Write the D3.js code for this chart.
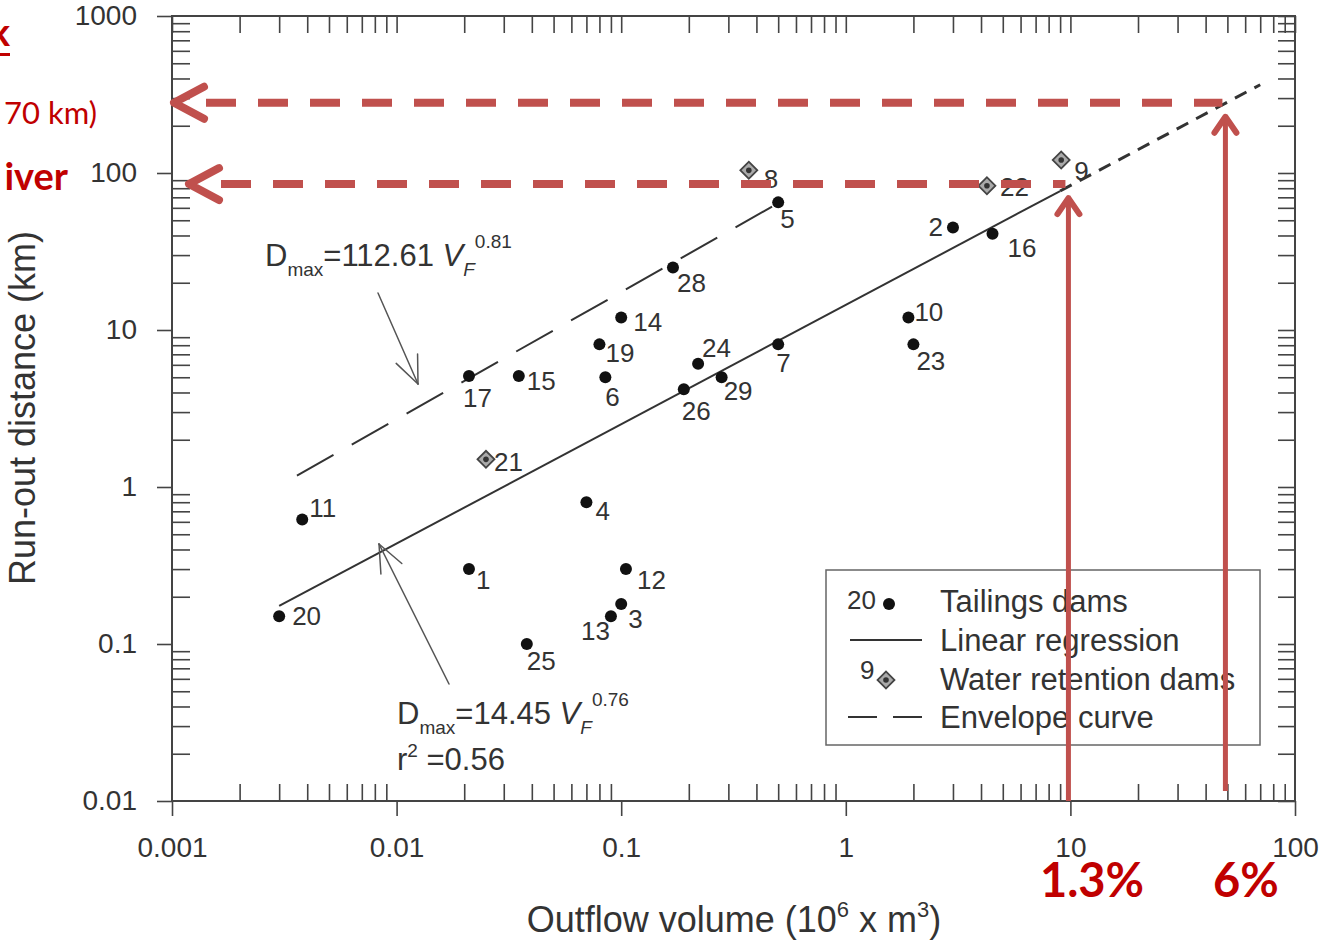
<!DOCTYPE html>
<html>
<head>
<meta charset="utf-8">
<script src="https://cdn.jsdelivr.net/npm/d3@7"></script>
<style>
  html, body { margin: 0; padding: 0; background: #fff; }
  svg { display: block; }
</style>
</head>
<body>
<svg id="chart" width="1325" height="944"></svg>
<script>
// tailings dams: id, outflow volume (10^6 m3), run-out distance (km)
const tailingsIds  = ["20", "11", "17", "15", "1", "25", "4", "12", "3", "13", "14", "19", "6", "24", "26", "29", "7", "28", "5", "2", "16", "10", "23"];
const tailingsVol  = [0.003, 0.0038, 0.021, 0.035, 0.021, 0.038, 0.07, 0.105, 0.1, 0.09, 0.1, 0.08, 0.085, 0.22, 0.19, 0.28, 0.5, 0.17, 0.5, 3.0, 4.5, 1.9, 2.0];
const tailingsDist = [0.15, 0.62, 5.1, 5.1, 0.3, 0.1, 0.8, 0.3, 0.18, 0.15, 12, 8.1, 5.0, 6.1, 4.2, 5.0, 8.1, 25, 65, 45, 41, 12, 8.1];

// water retention dams
const waterIds  = ["8", "22", "9", "21"];
const waterVol  = [0.37, 4.25, 9.1, 0.025];
const waterDist = [104, 83, 121, 1.5];

// fitted curves D = a * V^b
const regA = 14.45, regB = 0.76, regVol = [0.003, 9], regExtVol = [9, 70];
const envA = 112.61, envB = 0.81, envVol = [0.0036, 0.56];

// red overlay: volumes and distances read from the regression
const markVol  = [9.8, 49];
const markDist = [85, 280];
const markPct  = ["1.3%", "6%"];

const xMajor = [0.001, 0.01, 0.1, 1, 10, 100];
const yMajor = [0.01, 0.1, 1, 10, 100, 1000];

// label placement next to each point [dx, dy, anchor]
const labelPos = {
  "20": [13, 9, "start"], "11": [7, -3, "start"], "17": [-6, 31, "start"], "15": [8, 14, "start"],
  "1": [7, 20, "start"], "25": [0, 26, "start"], "4": [9, 18, "start"], "12": [11, 20, "start"],
  "3": [7, 24, "start"], "13": [-1, 24, "end"], "14": [12, 13, "start"], "19": [6, 18, "start"],
  "6": [0, 29, "start"], "24": [4, -7, "start"], "26": [-2, 31, "start"], "29": [2, 23, "start"],
  "7": [-2, 28, "start"], "28": [4, 24, "start"], "5": [2, 26, "start"], "2": [-10, 9, "end"],
  "16": [15, 23, "start"], "10": [6, 3, "start"], "23": [3, 26, "start"],
  "8": [15, 18, "start"], "22": [13, 10, "start"], "9": [13, 20, "start"], "21": [8, 12, "start"]
};

const ink = "#333";
const redLine = "#c0504d";
const redText = "#c00000";
const font = "'Liberation Sans', Arial, sans-serif";
const slideFont = "Lato, 'Open Sans', sans-serif";

const svg = d3.select("#chart");
const pLeft = 172, pRight = 1295, pTop = 16, pBottom = 801;

const x = d3.scaleLog().domain([0.001, 100]).range([pLeft, pRight]);
const y = d3.scaleLog().domain([0.01, 1000]).range([pBottom, pTop]);

const minors = (major) => {
  let out = [];
  major.slice(0, -1).forEach((m) => {
    for (let k = 2; k <= 9; k++) out.push(m * k);
  });
  return out;
};
const xMinor = minors(xMajor);
const yMinor = minors(yMajor);
const fmt = d3.format("~g");

const g = svg.append("g");

// frame
g.append("rect")
  .attr("x", pLeft).attr("y", pTop)
  .attr("width", pRight - pLeft).attr("height", pBottom - pTop)
  .attr("fill", "none").attr("stroke", "#444").attr("stroke-width", 2);

const styleAxis = (sel) => {
  sel.select(".domain").remove();
  sel.selectAll(".tick line").attr("stroke", "#444").attr("stroke-width", 1.6);
  sel.selectAll(".tick text")
    .attr("fill", ink).attr("font-family", font).attr("font-size", 28);
};

// bottom: majors outward, minors inward
g.append("g").attr("transform", `translate(0,${pBottom})`)
  .call(d3.axisBottom(x).tickValues(xMajor).tickSize(15).tickPadding(21).tickFormat(fmt))
  .call(styleAxis);
g.append("g").attr("transform", `translate(0,${pBottom})`)
  .call(d3.axisTop(x).tickValues(xMinor).tickSize(17).tickFormat(""))
  .call(styleAxis);

// left: majors outward, minors inward
g.append("g").attr("transform", `translate(${pLeft},0)`)
  .call(d3.axisLeft(y).tickValues(yMajor).tickSize(15).tickPadding(20).tickFormat(fmt))
  .call(styleAxis);
g.append("g").attr("transform", `translate(${pLeft},0)`)
  .call(d3.axisRight(y).tickValues(yMinor).tickSize(18).tickFormat(""))
  .call(styleAxis);

// top and right: inward ticks only
g.append("g").attr("transform", `translate(0,${pTop})`)
  .call(d3.axisBottom(x).tickValues(xMinor.concat(xMajor)).tickSize(17).tickFormat(""))
  .call(styleAxis);
g.append("g").attr("transform", `translate(${pRight},0)`)
  .call(d3.axisLeft(y).tickValues(yMinor.concat(yMajor)).tickSize(17).tickFormat(""))
  .call(styleAxis);

// axis titles
const xt = g.append("text")
  .attr("x", 734).attr("y", 932)
  .attr("text-anchor", "middle")
  .attr("font-family", font).attr("font-size", 36).attr("fill", ink);
xt.append("tspan").text("Outflow volume (10");
xt.append("tspan").attr("dy", -15).attr("font-size", 22).text("6");
xt.append("tspan").attr("dy", 15).text(" x m");
xt.append("tspan").attr("dy", -15).attr("font-size", 22).text("3");
xt.append("tspan").attr("dy", 15).text(")");

g.append("text")
  .attr("transform", "translate(35,408) rotate(-90)")
  .attr("text-anchor", "middle")
  .attr("font-family", font).attr("font-size", 36).attr("fill", ink)
  .text("Run-out distance (km)");

// regression and envelope lines
const line = d3.line().x((d) => x(d[0])).y((d) => y(d[1]));
const power = (a, b, vols) => vols.map((v) => [v, a * Math.pow(v, b)]);

g.append("path")
  .attr("d", line(power(regA, regB, regVol)))
  .attr("fill", "none").attr("stroke", ink).attr("stroke-width", 2);

g.append("path")
  .attr("d", line(power(envA, envB, envVol)))
  .attr("fill", "none").attr("stroke", ink).attr("stroke-width", 2)
  .attr("stroke-dasharray", "42,21");

// annotation arrows (thin, open heads)
const openArrow = (x1, y1, x2, y2, len, color, width) => {
  let ang = Math.atan2(y2 - y1, x2 - x1);
  let a = g.append("g").attr("stroke", color).attr("stroke-width", width)
    .attr("fill", "none").attr("stroke-linecap", "round");
  a.append("line").attr("x1", x1).attr("y1", y1).attr("x2", x2).attr("y2", y2);
  [-0.4, 0.4].forEach((da) => {
    a.append("line")
      .attr("x1", x2).attr("y1", y2)
      .attr("x2", x2 - len * Math.cos(ang + da))
      .attr("y2", y2 - len * Math.sin(ang + da));
  });
};
openArrow(378, 293, 418, 384, 30, "#555", 1.5);
openArrow(449, 684, 379, 544, 30, "#555", 1.5);

// equation labels
const equation = (px, py, a, b) => {
  let t = g.append("text")
    .attr("x", px).attr("y", py)
    .attr("font-family", font).attr("font-size", 31).attr("fill", ink);
  t.append("tspan").text("D");
  t.append("tspan").attr("dy", 10).attr("font-size", 19).text("max");
  t.append("tspan").attr("dy", -10).text("=" + a + " ");
  t.append("tspan").attr("font-style", "italic").text("V");
  t.append("tspan").attr("dy", 10).attr("font-size", 19).attr("font-style", "italic").text("F");
  t.append("tspan").attr("dy", -28).attr("font-size", 19).text(b);
};
equation(265, 266, "112.61", "0.81");
equation(397, 724, "14.45", "0.76");

const r2 = g.append("text")
  .attr("x", 397).attr("y", 770)
  .attr("font-family", font).attr("font-size", 31).attr("fill", ink);
r2.append("tspan").text("r");
r2.append("tspan").attr("dy", -13).attr("font-size", 19).text("2");
r2.append("tspan").attr("dy", 13).text(" =0.56");

// points
const tailings = tailingsIds.map((id, i) => ({ id: id, v: tailingsVol[i], d: tailingsDist[i] }));
const water = waterIds.map((id, i) => ({ id: id, v: waterVol[i], d: waterDist[i] }));

g.selectAll("circle.tail")
  .data(tailings)
  .enter().append("circle")
  .attr("class", "tail")
  .attr("cx", (d) => x(d.v)).attr("cy", (d) => y(d.d))
  .attr("r", 6).attr("fill", "#111");

const diamond = (sel) => {
  sel.append("rect")
    .attr("x", -6).attr("y", -6).attr("width", 12).attr("height", 12)
    .attr("transform", "rotate(45)")
    .attr("fill", "#aaa").attr("stroke", "#444").attr("stroke-width", 1.8);
  sel.append("circle").attr("r", 2.8).attr("fill", "#333");
};

g.selectAll("g.water")
  .data(water)
  .enter().append("g")
  .attr("class", "water")
  .attr("transform", (d) => `translate(${x(d.v)},${y(d.d)})`)
  .call(diamond);

g.selectAll("text.plabel")
  .data(tailings.concat(water))
  .enter().append("text")
  .attr("class", "plabel")
  .attr("x", (d) => x(d.v) + labelPos[d.id][0])
  .attr("y", (d) => y(d.d) + labelPos[d.id][1])
  .attr("text-anchor", (d) => labelPos[d.id][2])
  .attr("font-family", font).attr("font-size", 26).attr("fill", ink)
  .text((d) => d.id);

// legend
const lg = g.append("g");
lg.append("rect")
  .attr("x", 826).attr("y", 570).attr("width", 434).attr("height", 175)
  .attr("fill", "#fff").attr("stroke", "#666").attr("stroke-width", 1.5);
const legText = ["Tailings dams", "Linear regression", "Water retention dams", "Envelope curve"];
const legY = [601, 640, 679, 717];
lg.selectAll("text.leg")
  .data(legText)
  .enter().append("text")
  .attr("class", "leg")
  .attr("x", 940).attr("y", (d, i) => legY[i] + 11)
  .attr("font-family", font).attr("font-size", 31).attr("fill", ink)
  .text((d) => d);
lg.append("text").attr("x", 847).attr("y", legY[0] + 8)
  .attr("font-family", font).attr("font-size", 26).attr("fill", ink).text("20");
lg.append("circle").attr("cx", 889).attr("cy", legY[0] + 3).attr("r", 6).attr("fill", "#111");
lg.append("line").attr("x1", 850).attr("x2", 922).attr("y1", legY[1]).attr("y2", legY[1])
  .attr("stroke", ink).attr("stroke-width", 2);
lg.append("text").attr("x", 860).attr("y", legY[2])
  .attr("font-family", font).attr("font-size", 26).attr("fill", ink).text("9");
lg.append("g").attr("transform", `translate(886,${legY[2] + 1})`).call(diamond);
lg.append("line").attr("x1", 848).attr("x2", 922).attr("y1", legY[3]).attr("y2", legY[3])
  .attr("stroke", ink).attr("stroke-width", 2).attr("stroke-dasharray", "29,16");

// black dashed extension of the regression
g.append("path")
  .attr("d", line(power(regA, regB, regExtVol)))
  .attr("fill", "none").attr("stroke", ink).attr("stroke-width", 3)
  .attr("stroke-dasharray", "13,9");

// red overlay
const red = svg.append("g").attr("fill", "none").attr("stroke-linecap", "round");
const hTip = [pLeft + 17, pLeft + 2];
const vBottom = [pBottom, pBottom - 10];
const pctX = [1092, 1246];
markVol.forEach((v, i) => {
  let yy = y(markDist[i]);
  let xx = x(v);
  // horizontal dashed line toward the y axis
  red.append("line")
    .attr("x1", hTip[i] + 32).attr("x2", xx - 3)
    .attr("y1", yy).attr("y2", yy)
    .attr("stroke", redLine).attr("stroke-width", 8)
    .attr("stroke-linecap", "butt")
    .attr("stroke-dasharray", "30,22");
  red.append("path")
    .attr("d", `M${hTip[i] + 30},${yy - 16} L${hTip[i]},${yy} L${hTip[i] + 30},${yy + 16}`)
    .attr("stroke", redLine).attr("stroke-width", 8).attr("stroke-linejoin", "round");
  // vertical arrow from the x axis
  let tipY = yy + 14;
  red.append("line")
    .attr("x1", xx).attr("x2", xx)
    .attr("y1", vBottom[i]).attr("y2", tipY)
    .attr("stroke", redLine).attr("stroke-width", 5).attr("stroke-linecap", "butt");
  red.append("path")
    .attr("d", `M${xx - 11},${tipY + 16} L${xx},${tipY} L${xx + 11},${tipY + 16}`)
    .attr("stroke", redLine).attr("stroke-width", 6).attr("stroke-linejoin", "round");
  // percentage labels
  svg.append("text")
    .attr("x", pctX[i]).attr("y", 897)
    .attr("text-anchor", "middle")
    .attr("font-family", slideFont).attr("font-weight", "bold")
    .attr("font-size", 47).attr("fill", redText)
    .text(markPct[i]);
});

// cut-off slide text at the left edge
const side = svg.append("g").attr("fill", redText)
  .attr("font-family", slideFont).attr("text-anchor", "end");
side.append("text").attr("x", 10).attr("y", 46)
  .attr("font-size", 38).attr("font-weight", "bold").text("k");
side.append("rect").attr("x", 0).attr("y", 53).attr("width", 10).attr("height", 3);
side.append("text").attr("x", 97).attr("y", 124)
  .attr("font-size", 31).text("70 km)");
side.append("text").attr("x", 68).attr("y", 190)
  .attr("font-size", 38).attr("font-weight", "bold").text("iver");
</script>
</body>
</html>
